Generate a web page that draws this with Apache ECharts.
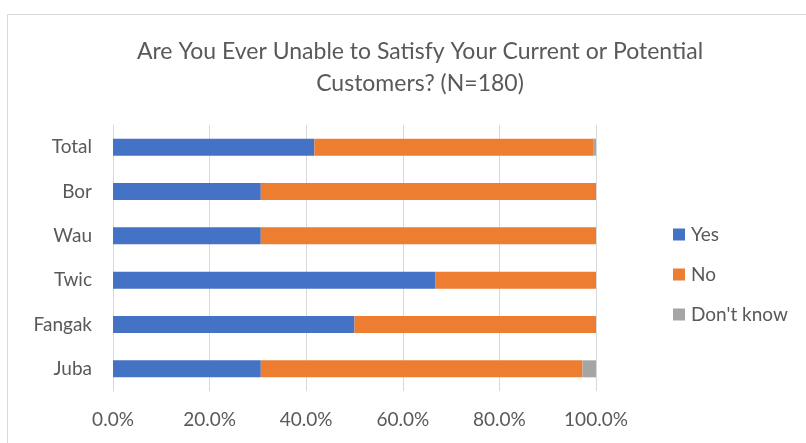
<!DOCTYPE html>
<html><head><meta charset="utf-8">
<script src="https://cdn.jsdelivr.net/npm/echarts@6/dist/echarts.min.js"></script>
<style>html,body{margin:0;padding:0;background:#fff}#c{width:806px;height:443px}</style>
</head><body><div id="c"></div>
<script>
const categories = ["Total", "Bor", "Wau", "Twic", "Fangak", "Juba"];
const yesValues = [41.7, 30.6, 30.6, 66.7, 50.0, 30.6];
const noValues = [57.7, 69.4, 69.4, 33.3, 50.0, 66.6];
const dontKnowValues = [0.6, 0, 0, 0, 0, 2.8];
const xTicks = [0, 20, 40, 60, 80, 100];

const FONT = 'Lato';
const TXT = '#595959';
const chart = echarts.init(document.getElementById('c'), null, {renderer: 'canvas'});
chart.setOption({
  animation: false,
  textStyle: {fontFamily: FONT},
  graphic: [{type: 'rect', shape: {x: 7.5, y: 14.5, width: 810, height: 440}, style: {fill: 'none', stroke: '#d9d9d9', lineWidth: 1}, silent: true}],
  title: {
    text: 'Are You Ever Unable to Satisfy Your Current or Potential\nCustomers? (N=180)',
    left: 415, top: 31, textAlign: 'center',
    textStyle: {fontFamily: FONT, fontSize: 23, fontWeight: 'normal', color: TXT, lineHeight: 32}
  },
  legend: {
    orient: 'vertical', left: 668, top: 220, itemWidth: 12, itemHeight: 12, itemGap: 21,
    icon: 'rect',
    textStyle: {fontFamily: FONT, fontSize: 19, color: TXT, padding: [0, 0, 0, 1]},
    data: ['Yes', 'No', "Don't know"]
  },
  grid: {left: 113, right: 210, top: 125, bottom: 52, containLabel: false},
  xAxis: {
    type: 'value', min: 0, max: 100, interval: 20,
    axisLabel: {formatter: v => v.toFixed(1) + '%', fontFamily: FONT, fontSize: 19, color: TXT, margin: 19},
    splitLine: {lineStyle: {color: '#d9d9d9', width: 1}},
    axisLine: {show: false}, axisTick: {show: false}
  },
  yAxis: {
    type: 'category', data: categories, inverse: true,
    axisLabel: {fontFamily: FONT, fontSize: 19, color: TXT, margin: 21},
    axisLine: {show: true, lineStyle: {color: '#d9d9d9'}}, axisTick: {show: false}
  },
  series: [
    {name: 'Yes', type: 'bar', stack: 's', data: yesValues, barWidth: 17, itemStyle: {color: '#4472c4'}},
    {name: 'No', type: 'bar', stack: 's', data: noValues, barWidth: 17, itemStyle: {color: '#ed7d31'}},
    {name: "Don't know", type: 'bar', stack: 's', data: dontKnowValues, barWidth: 17, itemStyle: {color: '#a5a5a5'}}
  ]
});
</script></body></html>
